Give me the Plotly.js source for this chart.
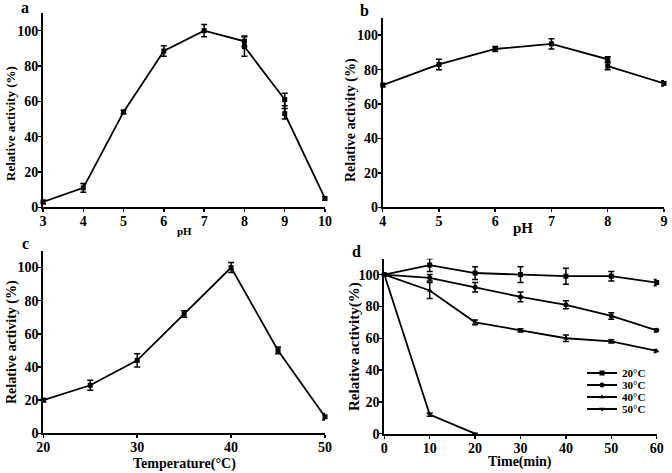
<!DOCTYPE html>
<html><head><meta charset="utf-8">
<script src="https://cdn.plot.ly/plotly-3.0.1.min.js"></script>
<style>html,body{margin:0;padding:0;background:#fff}#chart{width:672px;height:473px}</style>
</head><body><div id="chart"></div>
<script>
// Panel a: pH (two buffer overlaps at 8 and 9)
var phA = [3, 4, 5, 6, 7, 8, 8, 9, 9, 10];
var actA = [3, 11, 54, 88.5, 100, 94, 91, 61, 53, 5];
var errA = [1, 2.5, 1, 3, 3.5, 3, 5.5, 3.5, 3, 1];
// Panel b: pH stability
var phB = [4, 5, 6, 7, 8, 8, 9];
var actB = [71, 83, 92, 95, 86, 82, 72];
var errB = [1, 3, 1.5, 3, 1.5, 2, 1.5];
// Panel c: temperature
var tempC = [20, 25, 30, 35, 40, 45, 50];
var actC = [20, 29, 44, 72, 100, 50, 10];
var errC = [1, 3, 4, 2, 3, 2, 2];
// Panel d: thermal stability over time
var timeD = [0, 10, 20, 30, 40, 50, 60];
var d20 = [100, 106, 101, 100, 99, 99, 95];
var e20 = [0, 4, 4, 5, 5, 3, 2];
var d30 = [100, 98, 92, 86, 81, 74, 65];
var e30 = [0, 2, 3, 3, 2.5, 2, 1];
var d40 = [100, 90, 70, 65, 60, 58, 52];
var e40 = [0, 5, 1.5, 1, 2, 1, 1];
var time50 = [0, 10, 20];
var d50 = [100, 12, 0];
var e50 = [0, 1, 0];
var legendNames = ['20°C', '30°C', '40°C', '50°C'];

var W = 672, H = 473;
function px(x){return x/W;}
function py(y){return 1 - y/H;}
var F = 'Liberation Serif';
var blk = '#000';

function tr(x, y, e, xa, ya, sym, name, leg){
  var t = {x:x, y:y, xaxis:xa, yaxis:ya, type:'scatter', mode:'lines+markers',
    name:name||'', showlegend:!!leg, cliponaxis:false,
    line:{color:blk, width:1.8},
    marker:{symbol:sym, size:5, color:blk},
    error_y:{type:'data', array:e, visible:true, color:blk, thickness:1.5, width:3}};
  if (leg) t.legend = leg;
  return t;
}
var data = [
  tr(phA, actA, errA, 'x', 'y', 'square'),
  tr(phB, actB, errB, 'x2', 'y2', 'square'),
  tr(tempC, actC, errC, 'x3', 'y3', 'square'),
  tr(timeD, d20, e20, 'x4', 'y4', 'square', legendNames[0], 'legend'),
  tr(timeD, d30, e30, 'x4', 'y4', 'circle', legendNames[1], 'legend2'),
  tr(timeD, d40, e40, 'x4', 'y4', 'triangle-up', legendNames[2], 'legend3'),
  tr(time50, d50, e50, 'x4', 'y4', 'triangle-down', legendNames[3], 'legend4')
];

function ax(dom, range, dtick, anchor){
  return {domain:dom, range:range, dtick:dtick, anchor:anchor,
    showline:true, linecolor:blk, linewidth:2, mirror:false,
    ticks:'outside', ticklen:3, tickwidth:1.5, tickcolor:blk,
    ticklabelstandoff:-3,
    showgrid:false, zeroline:false, fixedrange:true,
    tickfont:{family:F, size:14, color:blk, weight:700}};
}
function leg(yc){
  return {x:px(582), y:py(yc), xanchor:'left', yanchor:'middle', bgcolor:'rgba(0,0,0,0)',
    font:{family:F, size:11, color:blk, weight:700}, itemwidth:30};
}
var layout = {
  width:W, height:H, margin:{l:0, r:0, t:0, b:0},
  paper_bgcolor:'#fff', plot_bgcolor:'#fff', showlegend:true,
  font:{family:F, color:blk, weight:700},
  xaxis: ax([px(43), px(325)], [3, 10], 1, 'y'),
  yaxis: ax([py(207.3), py(13)], [0, 110], 20, 'x'),
  xaxis2: ax([px(382.7), px(664)], [4, 9], 1, 'y2'),
  yaxis2: ax([py(207.3), py(18)], [0, 110], 20, 'x2'),
  xaxis3: ax([px(43.3), px(325)], [20, 50], 10, 'y3'),
  yaxis3: ax([py(433.3), py(251)], [0, 110], 20, 'x3'),
  xaxis4: ax([px(384.3), px(656.7)], [0, 60], 10, 'y4'),
  yaxis4: ax([py(433.7), py(258.7)], [0, 110], 20, 'x4'),
  legend: leg(373), legend2: leg(385), legend3: leg(397), legend4: leg(409),
  annotations:[]
};
function ann(text, x, y, size, angle){
  layout.annotations.push({text:text, xref:'paper', yref:'paper', x:px(x), y:py(y),
    xanchor:'center', yanchor:'middle', showarrow:false, textangle:angle||0,
    font:{family:F, size:size, color:blk, weight:700}});
}
ann('a', 25, 8, 16); ann('b', 364, 10, 16); ann('c', 25, 243, 16); ann('d', 356, 251, 16);
ann('pH', 184, 231, 11); ann('pH', 523, 228, 15);
ann('Temperature(°C)', 184, 464, 14); ann('Time(min)', 520, 462, 14);
ann('Relative activity (%)', 10, 124, 13, -90);
ann('Relative activity (%)', 351, 120, 14, -90);
ann('Relative activity (%)', 12, 342, 14, -90);
ann('Relative activity(%)', 354, 347, 15, -90);
Plotly.newPlot('chart', data, layout, {displayModeBar:false, staticPlot:true});
</script></body></html>
